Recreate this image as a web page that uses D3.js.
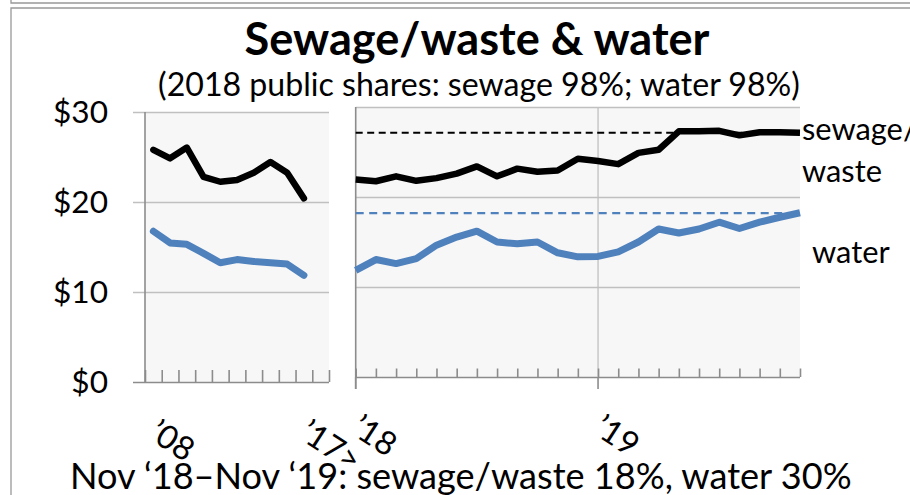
<!DOCTYPE html>
<html>
<head>
<meta charset="utf-8">
<script src="https://cdn.jsdelivr.net/npm/d3@7"></script>
<style>
body { margin: 0; background: #fff; }
text { font-family: Lato, "Open Sans", sans-serif; fill: #000; }
</style>
</head>
<body>
<div id="vis_container"></div>
<script>
// annual averages 2008-2017 (11 slots, last one left empty)
var years = ["2008","2009","2010","2011","2012","2013","2014","2015","2016","2017"];
var yearSlots = 11;
var sewageAnnual = [25.8, 24.85, 26.05, 22.8, 22.25, 22.45, 23.25, 24.45, 23.25, 20.4];
var waterAnnual = [16.75, 15.45, 15.3, 14.3, 13.25, 13.6, 13.4, 13.25, 13.1, 11.85];

// monthly Jan 2018 - Nov 2019
var months = ["2018-01","2018-02","2018-03","2018-04","2018-05","2018-06","2018-07","2018-08",
  "2018-09","2018-10","2018-11","2018-12","2019-01","2019-02","2019-03","2019-04","2019-05",
  "2019-06","2019-07","2019-08","2019-09","2019-10","2019-11"];
var sewageMonthly = [21.95, 21.75, 22.3, 21.8, 22.1, 22.6, 23.4, 22.3, 23.15, 22.8, 22.95, 24.25,
  24.0, 23.65, 24.9, 25.25, 27.3, 27.3, 27.35, 26.85, 27.2, 27.2, 27.15];
var waterMonthly = [11.85, 13.05, 12.6, 13.15, 14.65, 15.55, 16.2, 15.0, 14.8, 15.0, 13.8, 13.35,
  13.4, 13.9, 15.0, 16.45, 16.0, 16.45, 17.2, 16.5, 17.2, 17.75, 18.25];

var sewageRef = 27.15;
var waterRef = 18.2;

var yTicks = [0, 10, 20, 30];
var yearLabels = [{i: 0, t: "\u201908"}, {i: 9, t: "\u201917>"}];
var monthLabels = [{m: "2018-01", t: "\u201918"}, {m: "2019-01", t: "\u201919"}];
var majorMonths = ["2018-01", "2019-01"];

var width = 910, height = 495;
var gridColor = "#c0c0c0", axisColor = "#8c8c8c", plotFill = "#f7f7f7";
var black = "#000000", blue = "#4f81bd";

var svg = d3.select("#vis_container").append("svg")
    .attr("width", width)
    .attr("height", height);

function fit(sel, w) {
    var len = sel.node().getComputedTextLength();
    var fs = parseFloat(sel.style("font-size"));
    sel.style("font-size", (fs * w / len) + "px");
    return fs * w / len;
}

// frame
svg.append("path").attr("d", "M11,0V3H910").attr("fill", "none").attr("stroke", "#999").attr("stroke-width", 1.3);
svg.append("path").attr("d", "M11,495V8H910").attr("fill", "none").attr("stroke", "#999").attr("stroke-width", 1.3);

// scales
var xL = d3.scaleLinear().domain([0, yearSlots]).range([145, 329]);
var yL = d3.scaleLinear().domain([0, 30]).range([382, 112]);
var xR = d3.scalePoint().domain(months).range([355.7, 800]);
var yR = d3.scaleLinear().domain([0, 30]).range([377, 107]);

// left panel
svg.append("rect")
    .attr("x", xL(0)).attr("y", yL(30))
    .attr("width", xL(yearSlots) - xL(0)).attr("height", yL(0) - yL(30))
    .attr("fill", plotFill);

var gy = svg.append("g")
    .attr("transform", "translate(" + xL(yearSlots) + ",0)")
    .call(d3.axisLeft(yL).tickValues(yTicks).tickSize(xL(yearSlots) - 133).tickPadding(25)
        .tickFormat(function(d) { return "$" + d; }));
gy.select(".domain").remove();
gy.selectAll(".tick line").attr("stroke", function(d) { return d === 0 ? axisColor : gridColor; })
    .attr("stroke-width", function(d) { return d === 0 ? 1.6 : 1.3; });
gy.selectAll(".tick text").style("font-size", "30px");
var yFs = fit(gy.selectAll(".tick text").filter(function(d) { return d === 30; }), 55);
gy.selectAll(".tick text").style("font-size", yFs + "px").attr("dy", "0.34em");
gy.attr("font-family", null);

var gxL = svg.append("g")
    .attr("transform", "translate(0," + yL(0) + ")")
    .call(d3.axisBottom(xL).tickValues(d3.range(yearSlots + 1)).tickSize(-12).tickFormat(""));
gxL.select(".domain").remove();
gxL.selectAll(".tick line").attr("stroke", axisColor).attr("stroke-width", 1.6);

svg.append("line")
    .attr("x1", xL(0)).attr("x2", xL(0)).attr("y1", yL(30)).attr("y2", yL(0))
    .attr("stroke", axisColor).attr("stroke-width", 1.6);

var lineL = function(vals) {
    return d3.line()
        .x(function(d, i) { return xL(i + 0.5); })
        .y(function(d) { return yL(d); })(vals);
};
svg.append("path").attr("d", lineL(waterAnnual)).attr("fill", "none").attr("stroke", blue)
    .attr("stroke-width", 7).attr("stroke-linejoin", "round").attr("stroke-linecap", "round");
svg.append("path").attr("d", lineL(sewageAnnual)).attr("fill", "none").attr("stroke", black)
    .attr("stroke-width", 6.5).attr("stroke-linejoin", "round").attr("stroke-linecap", "round");

// right panel
svg.append("rect")
    .attr("x", xR.range()[0]).attr("y", yR(30))
    .attr("width", xR.range()[1] - xR.range()[0]).attr("height", yR(0) - yR(30))
    .attr("fill", plotFill);

var gyR = svg.append("g")
    .attr("transform", "translate(" + xR.range()[1] + ",0)")
    .call(d3.axisLeft(yR).tickValues(yTicks).tickSize(xR.range()[1] - xR.range()[0]).tickFormat(""));
gyR.select(".domain").remove();
gyR.selectAll(".tick line").attr("stroke", function(d) { return d === 0 ? axisColor : gridColor; })
    .attr("stroke-width", function(d) { return d === 0 ? 1.6 : 1.3; });

svg.append("line")
    .attr("x1", xR("2019-01")).attr("x2", xR("2019-01")).attr("y1", yR(30)).attr("y2", yR(0))
    .attr("stroke", gridColor).attr("stroke-width", 1.3);

var gxR = svg.append("g")
    .attr("transform", "translate(0," + yR(0) + ")")
    .call(d3.axisBottom(xR).tickSize(-8.5).tickFormat(""));
gxR.select(".domain").remove();
gxR.selectAll(".tick line").attr("stroke", axisColor).attr("stroke-width", 1.6);

svg.selectAll(".major").data(majorMonths).enter().append("line")
    .attr("x1", function(d) { return xR(d); }).attr("x2", function(d) { return xR(d); })
    .attr("y1", yR(0)).attr("y2", yR(0) + 12)
    .attr("stroke", axisColor).attr("stroke-width", 1.6);

svg.append("line")
    .attr("x1", xR.range()[0]).attr("x2", xR.range()[0]).attr("y1", yR(30)).attr("y2", yR(0) + 12)
    .attr("stroke", axisColor).attr("stroke-width", 1.6);

// reference dashes at latest level
svg.append("line")
    .attr("x1", xR.range()[0]).attr("x2", xR.range()[1]).attr("y1", yR(sewageRef)).attr("y2", yR(sewageRef))
    .attr("stroke", black).attr("stroke-width", 2).attr("stroke-dasharray", "7,4.5");
svg.append("line")
    .attr("x1", xR.range()[0]).attr("x2", xR.range()[1]).attr("y1", yR(waterRef)).attr("y2", yR(waterRef))
    .attr("stroke", blue).attr("stroke-width", 2.2).attr("stroke-dasharray", "8,5.5");

var lineR = function(vals) {
    return d3.line()
        .x(function(d, i) { return xR(months[i]); })
        .y(function(d) { return yR(d); })(vals);
};
svg.append("path").attr("d", lineR(waterMonthly)).attr("fill", "none").attr("stroke", blue)
    .attr("stroke-width", 7).attr("stroke-linejoin", "round");
svg.append("path").attr("d", lineR(sewageMonthly)).attr("fill", "none").attr("stroke", black)
    .attr("stroke-width", 6.5).attr("stroke-linejoin", "round");

// rotated category labels
var lab19 = svg.append("text").style("font-size", "24px").text("\u201919");
var catFs = fit(lab19, 45);
lab19.remove();

svg.selectAll(".ylab").data(yearLabels).enter().append("text")
    .attr("class", "ylab")
    .style("font-size", catFs + "px")
    .attr("transform", function(d) { return "translate(" + (xL(d.i + 0.5) - 6) + "," + (yL(0) + 56) + ") rotate(33)"; })
    .text(function(d) { return d.t; });

svg.selectAll(".mlab").data(monthLabels).enter().append("text")
    .attr("class", "mlab")
    .style("font-size", catFs + "px")
    .attr("transform", function(d) { return "translate(" + (xR(d.m) - 6) + "," + (yR(0) + 56) + ") rotate(33)"; })
    .text(function(d) { return d.t; });

// series labels
var waste = svg.append("text").attr("x", xR.range()[1] + 2).attr("y", yR(sewageRef) + 49)
    .style("font-size", "30px").text("waste");
var serFs = fit(waste, 80);
svg.append("text").attr("x", xR.range()[1] + 2).attr("y", yR(sewageRef) + 7)
    .style("font-size", serFs + "px").text("sewage/");
svg.append("text").attr("x", xR.range()[1] + 12).attr("y", yR(waterRef) + 50)
    .style("font-size", serFs + "px").text("water");

// titles
var title = svg.append("text").attr("x", 477).attr("y", 55).attr("text-anchor", "middle")
    .style("font-weight", "bold").style("font-size", "40px").text("Sewage/waste & water");
fit(title, 465);
var sub = svg.append("text").attr("x", 479).attr("y", 96).attr("text-anchor", "middle")
    .style("font-size", "28px").text("(2018 public shares: sewage 98%; water 98%)");
fit(sub, 642);
var foot = svg.append("text").attr("x", 70).attr("y", 489)
    .style("font-size", "30px").text("Nov \u201818\u2013Nov \u201819: sewage/waste 18%, water 30%");
fit(foot, 782);
</script>
</body>
</html>
